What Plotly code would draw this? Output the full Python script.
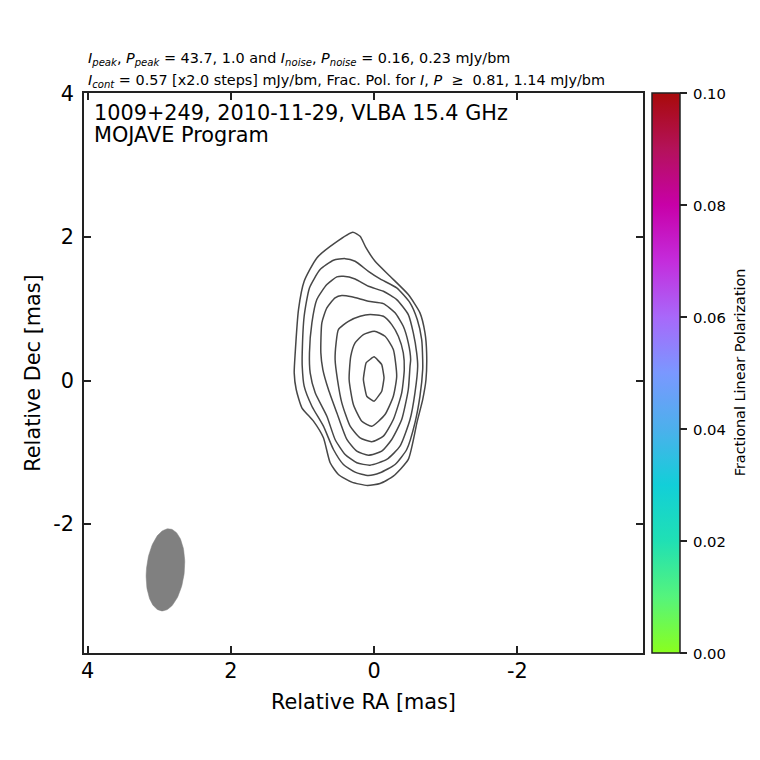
import numpy as np
import plotly.graph_objects as go

# contours, clean map in mas (outermost first)
c1_ra = [0.297, 0.195, 0.111, -0.014, -0.223, -0.478, -0.641, -0.711, -0.734, -0.725, -0.679, -0.603, -0.478, -0.269, -0.084, 0.093, 0.311, 0.498, 0.613, 0.707, 0.846, 1.008, 1.087, 1.115, 1.101, 1.055, 0.976, 0.799, 0.544, 0.297]
c1_dec = [2.067, 2.011, 1.849, 1.663, 1.454, 1.199, 0.944, 0.665, 0.386, 0.014, -0.265, -0.567, -1.101, -1.334, -1.436, -1.463, -1.417, -1.310, -1.147, -0.799, -0.567, -0.380, -0.125, 0.107, 0.386, 0.990, 1.384, 1.710, 1.919, 2.067]
c2_ra = [0.404, 0.265, 0.079, -0.084, -0.316, -0.502, -0.603, -0.665, -0.679, -0.679, -0.641, -0.571, -0.456, -0.293, -0.084, 0.079, 0.265, 0.428, 0.567, 0.707, 0.868, 0.976, 1.003, 1.003, 0.976, 0.902, 0.753, 0.567, 0.404]
c2_dec = [1.700, 1.663, 1.523, 1.417, 1.292, 1.083, 0.850, 0.571, 0.293, 0.153, -0.219, -0.590, -0.962, -1.171, -1.286, -1.324, -1.278, -1.171, -0.962, -0.637, -0.358, -0.079, 0.199, 0.386, 0.896, 1.292, 1.547, 1.677, 1.700]
c3_ra = [0.428, 0.265, 0.079, -0.130, -0.316, -0.478, -0.548, -0.595, -0.609, -0.571, -0.502, -0.362, -0.177, 0.056, 0.241, 0.404, 0.544, 0.659, 0.822, 0.892, 0.902, 0.868, 0.799, 0.659, 0.520, 0.428]
c3_dec = [1.454, 1.417, 1.314, 1.245, 1.129, 0.920, 0.665, 0.386, 0.199, -0.171, -0.544, -0.916, -1.101, -1.180, -1.147, -1.031, -0.822, -0.498, -0.171, 0.107, 0.386, 0.804, 1.129, 1.338, 1.445, 1.454]
c4_ra = [0.450, 0.311, 0.079, -0.130, -0.293, -0.408, -0.478, -0.511, -0.502, -0.478, -0.386, -0.247, -0.107, 0.079, 0.241, 0.380, 0.520, 0.637, 0.715, 0.743, 0.729, 0.659, 0.544, 0.450]
c4_dec = [1.185, 1.167, 1.105, 1.073, 0.944, 0.757, 0.525, 0.293, 0.199, -0.125, -0.544, -0.822, -0.985, -1.041, -0.985, -0.822, -0.450, -0.125, 0.153, 0.386, 0.804, 1.013, 1.153, 1.185]
c5_ra = [0.056, -0.130, -0.247, -0.339, -0.408, -0.422, -0.386, -0.269, -0.130, 0.032, 0.195, 0.334, 0.450, 0.511, 0.544, 0.530, 0.498, 0.358, 0.195, 0.056]
c5_dec = [0.920, 0.896, 0.780, 0.617, 0.386, 0.153, -0.171, -0.544, -0.776, -0.854, -0.799, -0.637, -0.311, 0.014, 0.293, 0.525, 0.711, 0.826, 0.896, 0.920]
c6_ra = [-0.004, -0.153, -0.269, -0.316, -0.269, -0.153, 0.032, 0.171, 0.289, 0.348, 0.325, 0.265, 0.149, -0.004]
c6_dec = [0.687, 0.617, 0.432, 0.060, -0.219, -0.474, -0.637, -0.567, -0.334, 0.014, 0.339, 0.525, 0.641, 0.687]
c7_ra = [0.000, -0.107, -0.139, -0.107, 0.000, 0.102, 0.149, 0.111, 0.000]
c7_dec = [0.330, 0.223, 0.038, -0.149, -0.289, -0.219, 0.014, 0.247, 0.330]

# restoring beam (mas, deg)
beam_ra, beam_dec = 2.913, -2.64
beam_major, beam_minor, beam_pa = 0.575, 0.265, -5.6

frac_pol_colors = [
    [0.0, "#8aff1e"], [0.1, "#55f47c"], [0.2, "#20e0b4"], [0.3, "#12cfd8"],
    [0.4, "#4cb0ec"], [0.5, "#7a98ff"], [0.6, "#a868fa"], [0.7, "#c42cdc"],
    [0.8, "#c800a8"], [0.9, "#b4125a"], [1.0, "#a80a0a"],
]
cbar_ticks = [0.0, 0.02, 0.04, 0.06, 0.08, 0.10]
map_ticks = [4, 2, 0, -2]
map_ticktext = ["4", "2", "0", "-2"]

W = 760
H = 760
FONT = "DejaVu Sans"
big = 20.8
small = 14.4

fig = go.Figure()

contours = [(c1_ra, c1_dec), (c2_ra, c2_dec), (c3_ra, c3_dec), (c4_ra, c4_dec),
            (c5_ra, c5_dec), (c6_ra, c6_dec)]
for ra, dec in contours:
    fig.add_trace(go.Scatter(x=ra, y=dec, mode="lines", showlegend=False, hoverinfo="skip",
                             line=dict(color="#474747", width=1.5, shape="spline", smoothing=0.55)))
# innermost one looks polygonal in the original
fig.add_trace(go.Scatter(x=c7_ra, y=c7_dec, mode="lines", showlegend=False, hoverinfo="skip",
                         line=dict(color="#474747", width=1.5, shape="spline", smoothing=0.3)))

# beam ellipse
t = np.linspace(0, 2 * np.pi, 120)
pa = np.radians(beam_pa)
bx = beam_minor * np.cos(t) * np.cos(pa) + beam_major * np.sin(t) * np.sin(pa)
by = -beam_minor * np.cos(t) * np.sin(pa) + beam_major * np.sin(t) * np.cos(pa)
fig.add_trace(go.Scatter(x=beam_ra + bx, y=beam_dec + by, mode="lines", fill="toself",
                         fillcolor="#808080", line=dict(color="#808080", width=0.5),
                         showlegend=False, hoverinfo="skip"))

# only here for the colour bar
fig.add_trace(go.Scatter(
    x=[None, None], y=[None, None], mode="markers", showlegend=False,
    marker=dict(
        color=[0.0, 0.1], cmin=0.0, cmax=0.1, colorscale=frac_pol_colors,
        colorbar=dict(
            x=(652.5 - 83.5) / 560, xanchor="left", y=0, yanchor="bottom",
            lenmode="fraction", len=1, thickness=27.5, thicknessmode="pixels",
            xpad=0, ypad=0, outlinecolor="#222222", outlinewidth=1.5,
            ticks="outside", ticklen=7, tickwidth=1.5, tickcolor="#222222",
            tickvals=cbar_ticks, showticklabels=False,
        ),
    ),
))

axis_style = dict(
    showgrid=False, zeroline=False, showline=True, linecolor="#222222", linewidth=1.5,
    mirror="ticks", ticks="inside", ticklen=7, tickwidth=1.5, tickcolor="#222222",
    tickmode="array", tickvals=map_ticks, ticktext=map_ticktext,
    tickfont=dict(family=FONT, size=big, color="black"),
)

fig.update_layout(
    width=W, height=H, paper_bgcolor="white", plot_bgcolor="white",
    margin=dict(l=83.5, r=116.5, t=92.5, b=106.5),
    font=dict(family=FONT, color="black"),
    xaxis=dict(range=[4.05, -3.755], ticklabelstandoff=-2,
               title=dict(text="Relative RA [mas]", standoff=13,
                          font=dict(family=FONT, size=big, color="black")), **axis_style),
    yaxis=dict(range=[-3.80, 4.01], ticklabelstandoff=4,
               title=dict(text="Relative Dec [mas]", standoff=7,
                          font=dict(family=FONT, size=big, color="black")), **axis_style),
)

for text, ypos in [("1009+249, 2010-11-29, VLBA 15.4 GHz", 0.9635), ("MOJAVE Program", 0.9243)]:
    fig.add_annotation(
        xref="paper", yref="paper", x=0.015, y=ypos, xanchor="left", yanchor="middle",
        showarrow=False, font=dict(family=FONT, size=big, color="black"), text=text,
    )
fig.add_annotation(
    xref="paper", yref="paper", x=0.004, y=1.0614, xanchor="left", yanchor="middle",
    showarrow=False, font=dict(family=FONT, size=small, color="black"),
    text="<i>I<sub>peak</sub></i>, <i>P<sub>peak</sub></i> = 43.7, 1.0 and "
         "<i>I<sub>noise</sub></i>, <i>P<sub>noise</sub></i> = 0.16, 0.23 mJy/bm",
)
fig.add_annotation(
    xref="paper", yref="paper", x=0.004, y=1.0223, xanchor="left", yanchor="middle",
    showarrow=False, font=dict(family=FONT, size=small, color="black"),
    text="<i>I<sub>cont</sub></i> = 0.57 [x2.0 steps] mJy/bm, Frac. Pol. for "
         "<i>I</i>, <i>P</i> &nbsp;≥&nbsp; 0.81, 1.14 mJy/bm",
)
# colour bar title and tick labels placed by hand, the bar's own sit too close
fig.add_annotation(
    xref="paper", yref="paper", x=(741 - 83.5) / 560, y=(654 - 372.5) / 561,
    xanchor="center", yanchor="middle", textangle=-90, showarrow=False,
    font=dict(family=FONT, size=small, color="black"), text="Fractional Linear Polarization",
)
for v in cbar_ticks:
    fig.add_annotation(
        xref="paper", yref="paper", x=(692 - 83.5) / 560, y=v / 0.1, xanchor="left",
        yanchor="middle", showarrow=False,
        font=dict(family=FONT, size=14.8, color="black"), text=f"{v:.2f}",
    )

# page body has a default margin, drop it so the figure sits at 0,0
fig.write_html("out.html", config=dict(displayModeBar=False),
               post_script="document.body.style.margin='0';")
